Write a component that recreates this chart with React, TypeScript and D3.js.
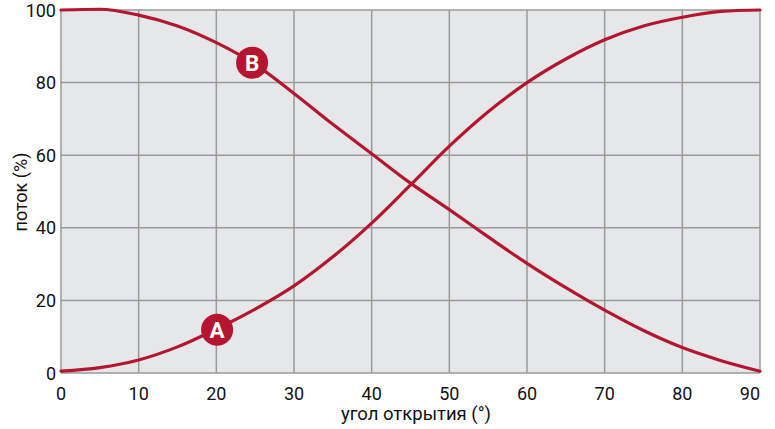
import React from "react";
import * as d3 from "d3";

const angles = [0, 5, 10, 15, 20, 25, 30, 35, 40, 45, 50, 55, 60, 65, 70, 75, 80, 85, 90];
const seriesA = [0.5, 1.5, 3.6, 7.2, 12.1, 17.6, 24, 32, 41.3, 51.8, 62.5, 72, 80, 86.5, 91.8, 95.6, 98, 99.6, 100];
const seriesB = [100, 100.2, 98.6, 95.6, 91, 85, 77, 68.5, 60.4, 52.3, 45, 37.5, 30.2, 23.5, 17.3, 11.7, 7, 3.4, 0.5];
const xTicks = [0, 10, 20, 30, 40, 50, 60, 70, 80, 90];
const yTicks = [0, 20, 40, 60, 80, 100];
const markers = [
  { label: "A", x: 20.1, y: 11.9 },
  { label: "B", x: 24.6, y: 85.5 },
];
const xLabel = "угол открытия (°)";
const yLabel = "поток (%)";

const W = 775, H = 429;
const RED = "#b5162f";
const FONT = "Roboto, 'Noto Sans', sans-serif";

export default function App() {
  const x = d3.scaleLinear().domain([0, 90]).range([61, 760]);
  const y = d3.scaleLinear().domain([0, 100]).range([373, 10]);
  const line = d3
    .line<[number, number]>()
    .x((d) => x(d[0]))
    .y((d) => y(d[1]))
    .curve(d3.curveMonotoneX);
  const dA = line(angles.map((a, i) => [a, seriesA[i]] as [number, number])) || "";
  const dB = line(angles.map((a, i) => [a, seriesB[i]] as [number, number])) || "";
  return (
    <svg width={W} height={H} style={{ display: "block", position: "absolute", left: 0, top: 0 }}>
      <rect x={x(0)} y={y(100)} width={x(90) - x(0)} height={y(0) - y(100)} fill="#e6e7e9" />
      {xTicks.map((t) => (
        <line key={"gx" + t} x1={x(t)} x2={x(t)} y1={y(0)} y2={y(100)} stroke="#9a9a9a" strokeWidth={1.5} />
      ))}
      {yTicks.map((t) => (
        <line key={"gy" + t} x1={x(0)} x2={x(90)} y1={y(t)} y2={y(t)} stroke="#9a9a9a" strokeWidth={1.5} />
      ))}
      <path d={dA} fill="none" stroke={RED} strokeWidth={3.2} strokeLinecap="round" />
      <path d={dB} fill="none" stroke={RED} strokeWidth={3.2} strokeLinecap="round" />
      {markers.map((m) => (
        <g key={m.label}>
          <circle cx={x(m.x)} cy={y(m.y)} r={16} fill={RED} />
          <text x={x(m.x)} y={y(m.y) + 8} textAnchor="middle" fill="#fff" fontFamily={FONT} fontWeight={700} fontSize={22.5}>
            {m.label}
          </text>
        </g>
      ))}
      {yTicks.map((t) => (
        <text key={"ty" + t} x={56} y={y(t) + 6.5} textAnchor="end" fontFamily={FONT} fontSize={18} fill="#111">
          {t}
        </text>
      ))}
      {xTicks.map((t, i) => (
        <text
          key={"tx" + t}
          x={x(t)}
          y={400}
          textAnchor={i === xTicks.length - 1 ? "end" : "middle"}
          fontFamily={FONT}
          fontSize={18}
          fill="#111"
        >
          {t}
        </text>
      ))}
      <text x={416} y={420} textAnchor="middle" fontFamily={FONT} fontSize={18.5} fill="#111">
        {xLabel}
      </text>
      <text transform={`translate(27,192) rotate(-90)`} textAnchor="middle" fontFamily={FONT} fontSize={18} fill="#111">
        {yLabel}
      </text>
    </svg>
  );
}
